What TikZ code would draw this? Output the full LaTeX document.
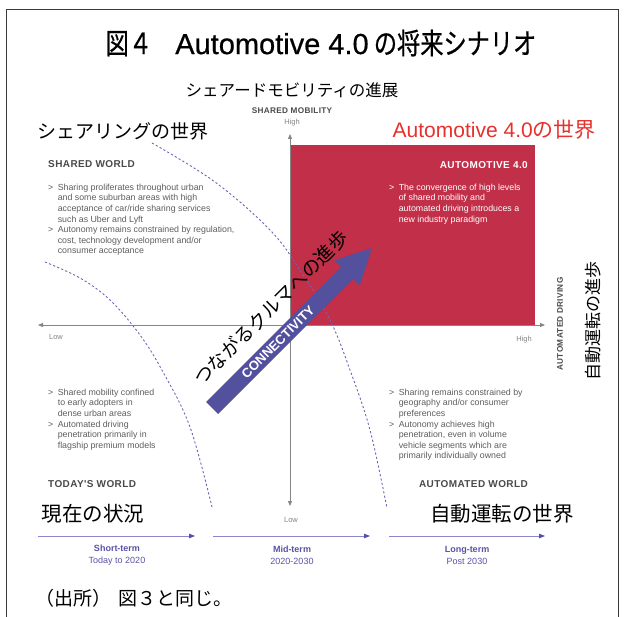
\documentclass[tikz,border=0pt]{standalone}
\usepackage{fontspec}
\usetikzlibrary{arrows.meta}
\newfontfamily\jp{Noto Sans CJK JP}
\newfontfamily\jpc[FakeStretch=0.8,FakeBold=0.6]{Noto Sans CJK JP}
\newfontfamily\lib{Liberation Sans}
\newfontfamily\libt[FakeBold=0.6]{Liberation Sans}
\newfontfamily\hdr[LetterSpace=4]{Liberation Sans}
\definecolor{framegray}{HTML}{3A3A3A}
\definecolor{hdrgray}{HTML}{4A4A4A}
\definecolor{bodygray}{HTML}{5E5E5E}
\definecolor{axgray}{HTML}{858585}
\definecolor{redbox}{HTML}{C12F49}
\definecolor{redtext}{HTML}{E8302C}
\definecolor{dashp}{HTML}{6E66B8}
\definecolor{tline}{HTML}{8C85CC}
\definecolor{ttip}{HTML}{5550A8}
\definecolor{tlabel}{HTML}{5A52A6}
\definecolor{arrowblue}{HTML}{53519D}
\tikzset{
  jpbig/.style={font=\jp\fontsize{19}{21}\selectfont, inner sep=0},
  jpmid/.style={font=\jp\fontsize{20.5}{22}\selectfont, inner sep=0},
  hdrtext/.style={font=\hdr\bfseries\fontsize{10}{12}\selectfont, text=hdrgray, inner sep=0},
  axlabel/.style={font=\lib\fontsize{7.5}{9}\selectfont, text=axgray, inner sep=0},
  axtitle/.style={font=\hdr\bfseries\fontsize{8.2}{10}\selectfont, text=hdrgray, inner sep=0},
  bullets/.style={font=\lib\fontsize{8.8}{10.6}\selectfont, text=bodygray, inner sep=0, anchor=base west},
  axisline/.style={draw=axgray, line width=0.8pt, {Triangle[length=5pt,width=4pt]}-{Triangle[length=5pt,width=4pt]}},
  dashcurve/.style={draw=dashp, line width=0.9pt, dash pattern=on 2.2pt off 2.2pt},
  timearrow/.style={draw=tline, line width=0.8pt, -{Triangle[length=6pt,width=4.5pt,color=ttip]}},
  timelabel/.style={font=\lib\fontsize{9}{12}\selectfont, text=tlabel, inner sep=0, align=center}
}
\begin{document}
\begin{tikzpicture}[x=1pt,y=-1pt]
\useasboundingbox (0,0) rectangle (624,617);
\fill[white] (0,0) rectangle (624,617);
% frame
\draw[framegray, line width=1pt] (6,617) -- (6,10) -- (618,10) -- (618,617);
% title
\node[inner sep=0, font=\jpc\fontsize{29}{31}\selectfont] (title) at (321,43) {図４　{\libt Automotive 4.0} の将来シナリオ};
\node[font=\jp\fontsize{16.5}{18}\selectfont, inner sep=0] (sub) at (292,90) {シェアードモビリティの進展};
% red quadrant
\fill[redbox] (291,145) rectangle (535,325);
% axes
\coordinate (vtop) at (290,134);
\coordinate (vbot) at (290,506);
\coordinate (hleft) at (38,325);
\coordinate (hright) at (545,325);
\draw[axisline] (vbot) -- (vtop);
\draw[axisline] (hleft) -- (hright);
\node[axtitle] (smob) at (292,111) {SHARED MOBILITY};
\node[axlabel] (shigh) at (292,123) {High};
\node[axlabel] (slow) at (291,520) {Low};
\node[axlabel] (hlow) at (56,337) {Low};
\node[axlabel] (hhigh) at (524,340) {High};
\node[axtitle, rotate=90] (adrv) at (560,324) {AUTOMATED DRIVING};
\node[font=\jp\fontsize{17}{19}\selectfont, inner sep=0, rotate=90] (adjp) at (593,321) {自動運転の進歩};
% dashed curves
\draw[dashcurve] plot[smooth, tension=0.6] coordinates {(152,143) (215,182) (270,230) (300,270) (330,320) (350,370) (370,430) (387,508)};
\draw[dashcurve] plot[smooth, tension=0.6] coordinates {(45,262) (80,278) (110,300) (140,335) (163,372) (190,427) (212,507)};
% quadrant headings
\node[jpbig, anchor=west] (swjp) at (37,131) {シェアリングの世界};
\node[inner sep=0, anchor=east, text=redtext, font=\jp\fontsize{21}{23}\selectfont] (a4jp) at (596,130) {{\lib Automotive 4.0}の世界};
\node[hdrtext, anchor=west] (sw) at (48,164) {SHARED WORLD};
\node[hdrtext, anchor=east, text=white] (a4) at (528,165) {AUTOMOTIVE 4.0};
\node[hdrtext, anchor=west] (tw) at (48,484) {TODAY'S WORLD};
\node[hdrtext, anchor=east] (aw) at (528,484) {AUTOMATED WORLD};
\node[jpmid] (twjp) at (93,514) {現在の状況};
\node[jpmid] (awjp) at (502,514) {自動運転の世界};
% bullets
\node[bullets] (swb) at (48,190.3) {\begin{tabular}[t]{@{}l@{\hspace{4.5pt}}l@{}}
>&Sharing proliferates throughout urban\\
&and some suburban areas with high\\
&acceptance of car/ride sharing services\\
&such as Uber and Lyft\\
>&Autonomy remains constrained by regulation,\\
&cost, technology development and/or\\
&consumer acceptance
\end{tabular}};
\node[bullets, text=white] (a4b) at (389,190.3) {\begin{tabular}[t]{@{}l@{\hspace{4.5pt}}l@{}}
>&The convergence of high levels\\
&of shared mobility and\\
&automated driving introduces a\\
&new industry paradigm
\end{tabular}};
\node[bullets] (twb) at (48,395.3) {\begin{tabular}[t]{@{}l@{\hspace{4.5pt}}l@{}}
>&Shared mobility confined\\
&to early adopters in\\
&dense urban areas\\
>&Automated driving\\
&penetration primarily in\\
&flagship premium models
\end{tabular}};
\node[bullets] (awb) at (389,395.3) {\begin{tabular}[t]{@{}l@{\hspace{4.5pt}}l@{}}
>&Sharing remains constrained by\\
&geography and/or consumer\\
&preferences\\
>&Autonomy achieves high\\
&penetration, even in volume\\
&vehicle segments which are\\
&primarily individually owned
\end{tabular}};
% connectivity arrow
\fill[arrowblue] (206,402) -- (341,267) -- (334.3,260.3) -- (372,248) -- (359.7,285.7) -- (353,279) -- (218,414) -- cycle;
\node[rotate=45, inner sep=0, text=white, font=\lib\bfseries\fontsize{13}{14}\selectfont] (conn) at (278,342) {CONNECTIVITY};
\node[rotate=45, inner sep=0, font=\jp\fontsize{19}{21}\selectfont] (connjp) at (271,308) {つながるクルマへの進歩};
% timeline
\coordinate (t1a) at (38,536); \coordinate (t1b) at (195,536);
\coordinate (t2a) at (213,536); \coordinate (t2b) at (370,536);
\coordinate (t3a) at (389,536); \coordinate (t3b) at (545,536);
\draw[timearrow] (t1a) -- (t1b);
\draw[timearrow] (t2a) -- (t2b);
\draw[timearrow] (t3a) -- (t3b);
\node[timelabel] (st) at (117,555) {\textbf{Short-term}\\Today to 2020};
\node[timelabel] (mt) at (292,555) {\textbf{Mid-term}\\2020-2030};
\node[timelabel] (lt) at (467,555) {\textbf{Long-term}\\Post 2030};
% source
\node[inner sep=0, anchor=west, font=\jp\fontsize{19}{21}\selectfont] (src) at (35,598) {（出所）\hspace{0.4em}図３と同じ。};
\end{tikzpicture}
\end{document}
